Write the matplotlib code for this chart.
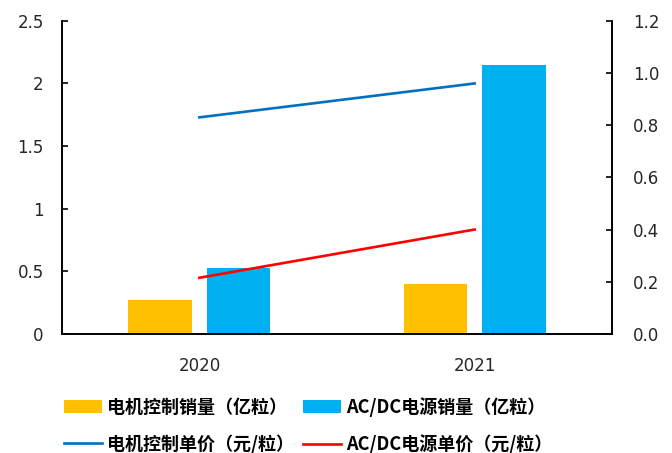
import matplotlib
matplotlib.use("Agg")
import matplotlib.pyplot as plt
import numpy as np

plt.rcParams['font.family'] = ['Noto Sans CJK SC', 'DejaVu Sans']

years = ['2020', '2021']
motor_qty = [0.27, 0.40]        # 电机控制销量（亿粒）
acdc_qty = [0.525, 2.15]        # AC/DC电源销量（亿粒）
motor_price = [0.83, 0.96]      # 电机控制单价（元/粒）
acdc_price = [0.215, 0.40]      # AC/DC电源单价（元/粒）

left_ticks = [0, 0.5, 1, 1.5, 2, 2.5]
left_labels = ['0', '0.5', '1', '1.5', '2', '2.5']
right_ticks = [0, 0.2, 0.4, 0.6, 0.8, 1.0, 1.2]
right_labels = ['0.0', '0.2', '0.4', '0.6', '0.8', '1.0', '1.2']

fig = plt.figure(figsize=(6.72, 4.53), dpi=100)
ax = fig.add_axes([0.092, 0.263, 0.819, 0.691])
ax2 = ax.twinx()

x = np.arange(len(years))
w = 0.23
b1 = ax.bar(x - 0.143, motor_qty, w, color='#FFC000')
b2 = ax.bar(x + 0.143, acdc_qty, w, color='#00B0F0')
l1, = ax2.plot(x, motor_price, color='#0070C0', lw=1.9)
l2, = ax2.plot(x, acdc_price, color='#FF0000', lw=1.9)

ax.set_xlim(-0.5, 1.5)
ax.set_ylim(0, 2.5)
ax2.set_ylim(0, 1.2)
ax.set_xticks(x)
ax.set_xticklabels(years)
ax.set_yticks(left_ticks)
ax.set_yticklabels(left_labels)
ax2.set_yticks(right_ticks)
ax2.set_yticklabels(right_labels)

for lab in ax.get_xticklabels() + ax.get_yticklabels() + ax2.get_yticklabels():
    lab.set_fontfamily('DejaVu Sans')
    lab.set_fontsize(12)
    lab.set_color('#262626')

ax.tick_params(axis='x', length=0, pad=17)
ax.tick_params(axis='y', direction='in', length=4, width=1.2, pad=13)
ax2.tick_params(axis='y', direction='in', length=4, width=1.2, pad=15)

for a in (ax, ax2):
    a.spines['top'].set_visible(False)
    for s in ('left', 'right', 'bottom'):
        a.spines[s].set_linewidth(1.2)
        a.spines[s].set_color('black')

handles = [b1, l1, b2, l2]
labels = ['电机控制销量（亿粒）', '电机控制单价（元/粒）',
          'AC/DC电源销量（亿粒）', 'AC/DC电源单价（元/粒）']
fig.legend(handles, labels, ncol=2, loc='upper left',
           bbox_to_anchor=(0.095, 0.123), frameon=False,
           prop={'family': ['Noto Sans CJK SC', 'DejaVu Sans'], 'weight': 'bold', 'size': 13},
           handlelength=2.1, handleheight=0.75, handletextpad=0.3,
           columnspacing=0.5, labelspacing=0.95, borderaxespad=0, borderpad=0)

fig.savefig('out.png', dpi=100)
